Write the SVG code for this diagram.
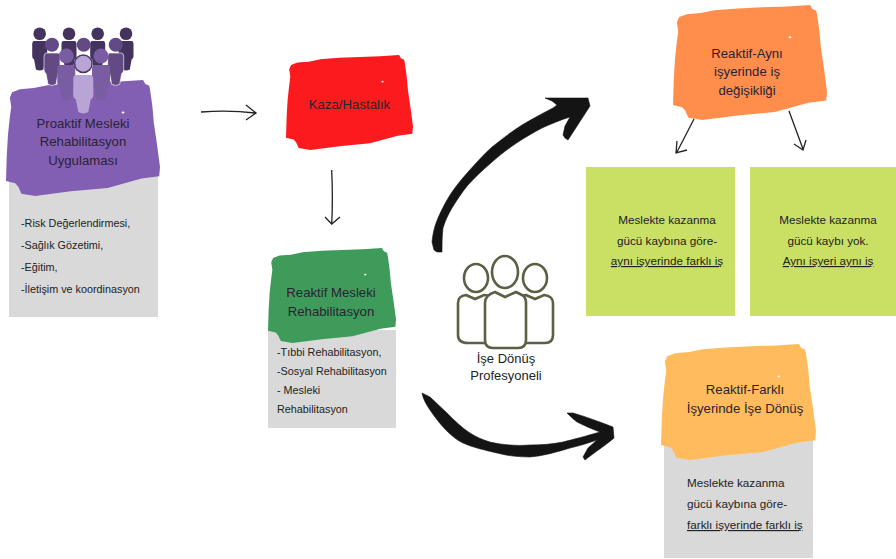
<svg xmlns="http://www.w3.org/2000/svg" width="896" height="559" viewBox="0 0 896 559">
<style>
text{font-family:"Liberation Sans",Arial,sans-serif;fill:#222;text-anchor:middle}
.t{font-size:13.2px;fill:#2a2333}
.s{font-size:10.8px;text-anchor:start}
.m{font-size:11.7px}
.l{text-anchor:start}
.u{text-decoration:underline}
.pl{font-size:13px}
.thin{fill:none;stroke:#222;stroke-width:1.3}
.thick{fill:#141414;stroke:#141414;stroke-width:.6;stroke-linejoin:round}
.prof{fill:#fff;stroke:#5b6045;stroke-width:2.6}
</style>
<defs>
<symbol id="blob" viewBox="0 0 100 100" preserveAspectRatio="none">
<path d="M4 10.500 L9 8 L18 7 L27 4.600 L42 3 L58 2 L74 1.200 L89 0 L90.500 3.500 L93 5 L93.500 8 L95 22 L96 37 L98 55 L100 75 L99.500 83 L88 85 L66 93 L42 96 L19 100 L10 98 L8 92 L6 89 L0 87 L.5 65 L1.300 47 L2.500 32 L3.400 23 L2.500 15 Z"/>
<circle cx="76" cy="28" r=".9" fill="#fff"/>
</symbol>
<path id="b" d="M-.75 0 H.75 Q1 0 1 .12 L1 .5 Q1 .6 .75 .62 L.5 .95 Q0 1.02 -.5 .95 L-.75 .62 Q-1 .6 -1 .5 L-1 .12 Q-1 0 -.75 0Z"/>
</defs>
<g id="node-proaktif">
<rect x="9" y="170" width="149" height="147" fill="#d9d9d9"/>
<use href="#blob" x="6" y="80" width="154" height="116" fill="#825fb3"/>
<g fill="#44325f">
<circle cx="39.700" cy="33.700" r="6.300"/><circle cx="69" cy="33.700" r="6.300"/><circle cx="97.700" cy="33.700" r="6.300"/><circle cx="126" cy="33.700" r="6.300"/>
<use href="#b" transform="translate(39.700,41) scale(7.500,30)"/><use href="#b" transform="translate(69,41) scale(7.500,30)"/><use href="#b" transform="translate(97.700,41) scale(7.500,30)"/><use href="#b" transform="translate(126,41) scale(7.500,30)"/>
</g>
<g fill="#634a84" stroke="#fff" stroke-width=".03">
<circle cx="52" cy="44.700" r="7"/><circle cx="83.700" cy="44.700" r="7"/><circle cx="115.700" cy="44.700" r="7"/>
<use href="#b" transform="translate(52,53) scale(8,33)"/><use href="#b" transform="translate(115.700,53) scale(8,33)"/>
</g>
<g fill="#7a5ca3">
<circle cx="66.300" cy="56" r="7.500"/><circle cx="101" cy="56" r="7.500"/>
<use href="#b" transform="translate(66.300,65) scale(9,36)"/><use href="#b" transform="translate(101,65) scale(9,36)"/>
</g>
<circle cx="83.300" cy="63.700" r="9.500" fill="#4b3669"/>
<circle cx="83.300" cy="63.700" r="8" fill="#b9a4d6"/>
<use href="#b" transform="translate(83.300,75) scale(10,39)" fill="#b9a4d6"/>
<text class="t" x="83" y="128">Proaktif Mesleki</text>
<text class="t" x="83" y="146">Rehabilitasyon</text>
<text class="t" x="83" y="165">Uygulaması</text>
<text class="s" x="21" y="227">-Risk Değerlendirmesi,</text>
<text class="s" x="21" y="249">-Sağlık Gözetimi,</text>
<text class="s" x="21" y="271">-Eğitim,</text>
<text class="s" x="21" y="293">-İletişim ve koordinasyon</text>
</g>
<g id="node-kaza">
<use href="#blob" x="286" y="55" width="127" height="95" fill="#fb1a1d"/>
<text class="t" x="349.500" y="109">Kaza/Hastalık</text>
</g>
<g id="node-reaktif">
<rect x="268" y="330" width="128" height="98" fill="#d9d9d9"/>
<use href="#blob" x="268" y="248" width="128" height="95" fill="#3f9b5a"/>
<text class="t" x="331" y="297">Reaktif Mesleki</text>
<text class="t" x="331" y="316">Rehabilitasyon</text>
<text class="s" x="277" y="356">-Tıbbi Rehabilitasyon,</text>
<text class="s" x="277" y="375">-Sosyal Rehabilitasyon</text>
<text class="s" x="277" y="394">- Mesleki</text>
<text class="s" x="277" y="413">Rehabilitasyon</text>
</g>
<g id="node-ayni">
<use href="#blob" x="673" y="5" width="154" height="115" fill="#ff8e4c"/>
<text class="t" x="747" y="58">Reaktif-Aynı</text>
<text class="t" x="747" y="76">işyerinde iş</text>
<text class="t" x="747" y="95">değişikliği</text>
</g>
<g id="node-farkli-is">
<rect x="586" y="167" width="149" height="149" fill="#c9e065"/>
<text class="m" x="667" y="224">Meslekte kazanma</text>
<text class="m" x="667" y="245">gücü kaybına göre-</text>
<text class="m u" x="667" y="265">aynı işyerinde farklı iş</text>
</g>
<g id="node-ayni-is">
<rect x="750" y="167" width="146" height="149" fill="#c9e065"/>
<text class="m" x="828" y="224">Meslekte kazanma</text>
<text class="m" x="828" y="245">gücü kaybı yok.</text>
<text class="m u" x="828" y="265">Aynı işyeri aynı iş</text>
</g>
<g id="node-farkli">
<rect x="664" y="440" width="149" height="118" fill="#d9d9d9"/>
<use href="#blob" x="661" y="344" width="155" height="116" fill="#ffbb5c"/>
<text class="t" x="745" y="394">Reaktif-Farklı</text>
<text class="t" x="745" y="413">İşyerinde İşe Dönüş</text>
<text class="m l" x="687" y="487">Meslekte kazanma</text>
<text class="m l" x="687" y="508">gücü kaybına göre-</text>
<text class="m l u" x="687" y="529">farklı işyerinde farklı iş</text>
</g>
<g id="node-profesyonel">
<ellipse cx="476" cy="278" rx="12" ry="14" class="prof"/>
<ellipse cx="535" cy="278" rx="12" ry="14" class="prof"/>
<path class="prof" d="M466 295 L475 299 L484 295 L500 297 V343 H468 Q458 343 458 335 V303 Q458 296 466 295Z"/>
<path class="prof" d="M526 295 L535 299 L544 295 Q553 296 553 303 V335 Q553 343 545 343 H510 V297Z"/>
<ellipse cx="505" cy="272" rx="13" ry="16" class="prof"/>
<path class="prof" d="M495 292 L505 297 L516 292 L522 295 Q526 297 526 303 V340 Q526 348 518 348 H493 Q485 348 485 340 V303 Q485 295 495 292Z"/>
<text class="pl" x="506" y="363">İşe Dönüş</text>
<text class="pl" x="506" y="380">Profesyoneli</text>
</g>
<g id="connectors">
<path class="thin" d="M201 112 Q230 110 255 113 M246 105 L256 113 L246 120"/>
<path class="thin" d="M331.700 170 Q333 200 331.700 224 M325 217 L331.700 224 L340 217"/>
<path class="thin" d="M694 119 L677 152 M677 141 L676 153 L687 150"/>
<path class="thin" d="M789 111 L803 149 M794 144 L803 150 L806 140"/>
<path class="thick" d="M432 242 C433 232 435 225 438 218 C442 209 445 203 450 195 C455 187 461 180 468 172 C476 163 483 155 492 147 C502 139 511 132 522 125 C532 119 543 113 553 108 L557 105 L552 101 L545 98 L588 98 L590 106 L568 140 L565 138 L563 135 L565 126 L570 117 C560 120 551 124 542 128 C534 132 526 137 518 142 C509 148 500 155 492 162 C483 170 475 177 468 185 C462 192 457 200 452 208 C448 215 445 221 443 228 C442 236 442 244 442 252 L437 252 L434 250 Z"/>
<path class="thick" d="M422 393 L430 397 C436 402 441 408 447 413 C454 420 462 428 470 433 C476 437 483 440 490 442 C503 445 516 446 530 445 C542 445 553 444 563 442 C575 439 586 436 600 432 C592 429 585 426 577 422 C573 419 570 416 567 413 L573 413 C587 417 600 422 613 427 L614 438 C606 445 595 452 585 460 L583 457 L588 448 L597 440 C588 443 579 446 570 448 C557 452 543 456 530 457 C519 457 508 456 497 453 C485 450 474 448 463 443 C452 438 440 425 430 410 C426 404 423 399 422 393 Z"/>
</g>
</svg>
